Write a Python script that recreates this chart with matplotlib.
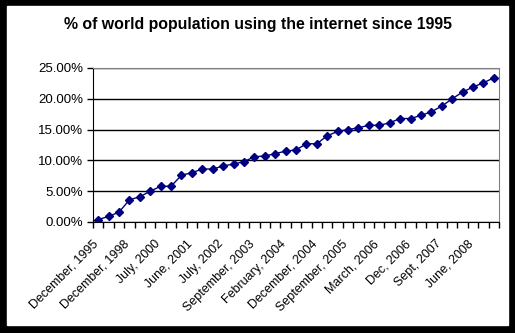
import matplotlib
matplotlib.use('Agg')
import matplotlib.pyplot as plt
from matplotlib.ticker import FuncFormatter, FixedLocator

# data
dates = ['December, 1995', 'December, 1996', 'December, 1997', 'December, 1998',
         'December, 1999', 'March, 2000', 'July, 2000', 'December, 2000',
         'March, 2001', 'June, 2001', 'August, 2001', 'April, 2002',
         'July, 2002', 'September, 2002', 'March, 2003', 'September, 2003',
         'October, 2003', 'December, 2003', 'February, 2004', 'May, 2004',
         'October, 2004', 'December, 2004', 'March, 2005', 'June, 2005',
         'September, 2005', 'November, 2005', 'December, 2005', 'March, 2006',
         'June, 2006', 'Sept, 2006', 'Dec, 2006', 'March, 2007',
         'June, 2007', 'Sept, 2007', 'Dec, 2007', 'March, 2008',
         'June, 2008', 'Sept, 2008', 'Dec, 2008']
pct = [0.4, 0.9, 1.6, 3.6, 4.1, 5.0, 5.8, 5.8, 7.6, 8.0, 8.6, 8.6, 9.1,
       9.4, 9.8, 10.6, 10.7, 11.1, 11.5, 11.7, 12.7, 12.7, 14.0, 14.7,
       15.0, 15.3, 15.7, 15.7, 16.1, 16.8, 16.8, 17.3, 17.9, 18.8, 20.0,
       21.1, 21.9, 22.6, 23.4]
label_step = 3

plt.rcParams['font.family'] = ['Liberation Sans', 'DejaVu Sans']

W, H = 515, 333
fig = plt.figure(figsize=(W / 100, H / 100), dpi=100)
fig.patch.set_facecolor('black')
fig.add_artist(plt.Rectangle((7 / W, 8 / H), 501 / W, 319 / H,
                             transform=fig.transFigure, color='white', zorder=-1))

ax = fig.add_axes([93 / W, (H - 222) / H, 406 / W, 154 / H])
ax.set_facecolor('white')

x = list(range(len(pct)))
y = [v / 100 for v in pct]
ax.plot(x, y, color='#000080', lw=1, marker='D', ms=4.5, mfc='#000080', mec='#000080')

ax.set_xlim(-0.5, len(pct) - 0.5)
ax.set_ylim(0, 0.25)
ax.set_yticks([0, 0.05, 0.10, 0.15, 0.20, 0.25])
ax.yaxis.set_major_formatter(FuncFormatter(lambda v, p: '%.2f%%' % (v * 100)))
ax.yaxis.grid(True, color='black', lw=1)
ax.set_axisbelow(True)

# category ticks at boundaries, labels every 3rd category (drawn as annotations
# so they can sit a bit left of their category like in Excel)
ax.set_xticks([])
ax.xaxis.set_minor_locator(FixedLocator([i - 0.5 for i in range(len(pct) + 1)]))
ax.tick_params(axis='x', which='minor', length=4, width=1, color='black', direction='out')
for i in x[::label_step]:
    ax.annotate(dates[i], xy=(i, 0), xycoords=('data', 'axes fraction'),
                xytext=(-4.3, -11.5), textcoords='offset points',
                rotation=45, ha='right', va='top', rotation_mode='anchor',
                fontsize=9, annotation_clip=False)
ax.tick_params(axis='y', length=4, width=1, color='black', direction='out', labelsize=9.5, pad=3)

for s in ['left', 'bottom']:
    ax.spines[s].set_color('black')
for s in ['top', 'right']:
    ax.spines[s].set_color('#808080')

fig.text(0.5, (H - 25) / H, '% of world population using the internet since 1995',
         ha='center', va='center', fontsize=11.4, fontweight='bold')

fig.savefig('out.png', dpi=100, facecolor=fig.get_facecolor())
